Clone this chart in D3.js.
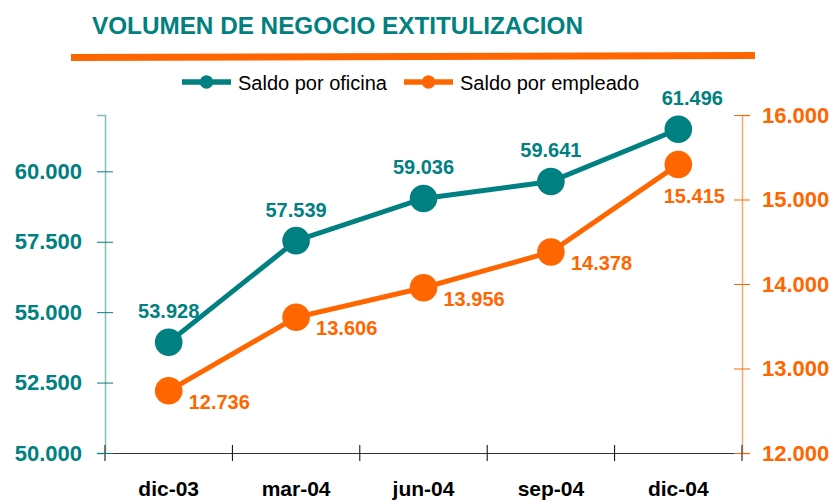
<!DOCTYPE html>
<html>
<head>
<meta charset="utf-8">
<script src="https://cdn.jsdelivr.net/npm/d3@7"></script>
<style>
  body { margin: 0; background: #fff; }
  text { font-family: "Liberation Sans", Arial, sans-serif; }
</style>
</head>
<body>
<div id="chart"></div>
<script>
// datos
const periodos = ["dic-03", "mar-04", "jun-04", "sep-04", "dic-04"];
const saldoOficina = [53928, 57539, 59036, 59641, 61496];
const saldoEmpleado = [12736, 13606, 13956, 14378, 15415];
const ticksIzq = [50000, 52500, 55000, 57500, 60000];
const ticksDer = [12000, 13000, 14000, 15000, 16000];

const teal = "#008080";
const orange = "#FF6600";
const FONT = "Liberation Sans, Arial, sans-serif";
const fmt = v => d3.format(",")(v).replace(/,/g, ".");

const W = 835, H = 500;
const svg = d3.select("#chart").append("svg")
  .attr("width", W).attr("height", H);

// titulo
svg.append("text")
  .attr("x", 92).attr("y", 34)
  .attr("font-size", 24).attr("font-weight", "bold")
  .attr("fill", teal)
  .attr("textLength", 491).attr("lengthAdjust", "spacingAndGlyphs")
  .text("VOLUMEN DE NEGOCIO EXTITULIZACION");

// barra naranja
svg.append("polygon")
  .attr("points", "71,54 755,52 755,59 71,61")
  .attr("fill", orange);

// escalas
const x = d3.scaleBand().domain(periodos).range([105, 742]);
const yL = d3.scaleLinear().domain([50000, 62000]).range([453, 115]);
const yR = d3.scaleLinear().domain([12000, 16000]).range([453, 115]);

// eje x
const gx = svg.append("g").attr("transform", "translate(0,453)")
  .call(d3.axisBottom(x).tickSize(0).tickPadding(28));
gx.select(".domain").attr("stroke", "#333").attr("stroke-width", 1.2);
gx.selectAll("text").attr("font-size", 21).attr("font-weight", "bold")
  .attr("fill", "#000").attr("font-family", FONT);
// marcas entre categorias
gx.selectAll(".sep").data(periodos.slice(1)).join("line")
  .attr("class", "sep")
  .attr("x1", d => x(d)).attr("x2", d => x(d))
  .attr("y1", -8).attr("y2", 8)
  .attr("stroke", "#000");

// eje izquierdo
const gl = svg.append("g").attr("transform", "translate(105,0)")
  .call(d3.axisLeft(yL).tickValues(ticksIzq).tickFormat(fmt).tickSizeOuter(0).tickSize(8).tickPadding(15));
gl.select(".domain").attr("stroke", "#7FBFBF").attr("stroke-width", 1.5);
gl.selectAll(".tick line").attr("x2", 8).attr("x1", -8).attr("stroke", teal);
gl.selectAll("text").attr("font-size", 22).attr("font-weight", "bold")
  .attr("fill", teal).attr("font-family", FONT);

// eje derecho
const gr = svg.append("g").attr("transform", "translate(742,0)")
  .call(d3.axisRight(yR).tickValues(ticksDer).tickFormat(fmt).tickSizeOuter(0).tickSize(8).tickPadding(12));
gr.select(".domain").attr("stroke", "#F9A870").attr("stroke-width", 1.5);
gr.selectAll(".tick line").attr("x1", -8).attr("x2", 8).attr("stroke", orange);
gr.selectAll("text").attr("font-size", 22).attr("font-weight", "bold")
  .attr("fill", orange).attr("font-family", FONT);

// esquinas inferiores
[105, 742].forEach(px => svg.append("line")
  .attr("x1", px).attr("x2", px).attr("y1", 445).attr("y2", 461)
  .attr("stroke", "#555").attr("stroke-width", 1.5));

const cx = d => x(d) + x.bandwidth() / 2;

function serie(values, y, color) {
  const pts = periodos.map((p, i) => [cx(p), y(values[i])]);
  svg.append("path")
    .attr("d", d3.line()(pts))
    .attr("fill", "none").attr("stroke", color).attr("stroke-width", 5);
  svg.selectAll(null).data(pts).join("circle")
    .attr("cx", d => d[0]).attr("cy", d => d[1]).attr("r", 13.8)
    .attr("fill", color);
  return pts;
}

const pO = serie(saldoOficina, yL, teal);
const pE = serie(saldoEmpleado, yR, orange);

// etiquetas
const last = periodos.length - 1;
svg.selectAll(null).data(saldoOficina).join("text")
  .attr("x", (d, i) => pO[i][0] + (i === last ? 14 : 0))
  .attr("y", (d, i) => pO[i][1] - 24)
  .attr("text-anchor", "middle")
  .attr("font-size", 20).attr("font-weight", "bold").attr("fill", teal)
  .text(fmt);

svg.selectAll(null).data(saldoEmpleado).join("text")
  .attr("x", (d, i) => i === last ? pE[i][0] + 16 : pE[i][0] + 20)
  .attr("y", (d, i) => i === last ? pE[i][1] + 39 : pE[i][1] + 18)
  .attr("text-anchor", (d, i) => i === last ? "middle" : "start")
  .attr("font-size", 20).attr("font-weight", "bold").attr("fill", orange)
  .text(fmt);

// leyenda
const leyenda = [
  { name: "Saldo por oficina", color: teal, x: 182 },
  { name: "Saldo por empleado", color: orange, x: 404 }
];
const lg = svg.selectAll(".lg").data(leyenda).join("g")
  .attr("class", "lg")
  .attr("transform", d => `translate(${d.x},82)`);
lg.append("line").attr("x1", 0).attr("x2", 49)
  .attr("stroke", d => d.color).attr("stroke-width", 5.5);
lg.append("circle").attr("cx", 24.5).attr("r", 6.7).attr("fill", d => d.color);
lg.append("text").attr("x", 56).attr("y", 8)
  .attr("font-size", 20).attr("fill", "#000")
  .text(d => d.name);
</script>
</body>
</html>
